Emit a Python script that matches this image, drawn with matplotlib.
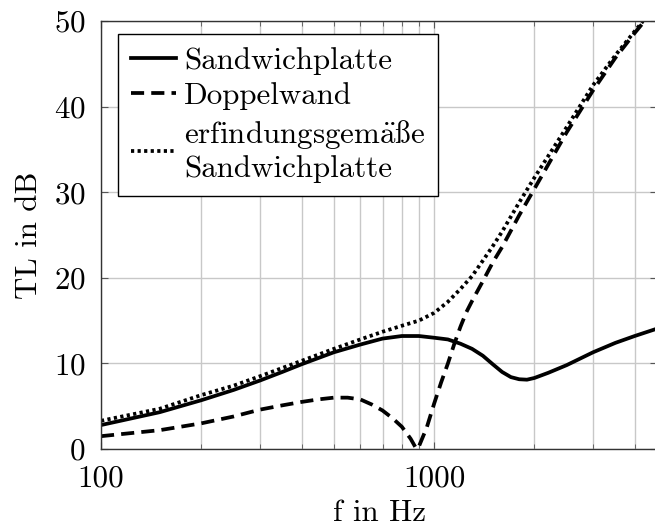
import matplotlib
matplotlib.use('Agg')
import matplotlib.pyplot as plt
import matplotlib.ticker as ticker
from matplotlib import font_manager
from matplotlib.ft2font import FT2Font

plt.rcParams['font.family'] = ['cmr10', 'STIXGeneral']
plt.rcParams['mathtext.fontset'] = 'cm'
plt.rcParams['axes.formatter.use_mathtext'] = True


def cm_char(glyph_name, fallback):
    # look for a named glyph in the bundled cmr10 font
    try:
        path = font_manager.findfont('cmr10')
        ft = FT2Font(path)
        for code, idx in ft.get_charmap().items():
            if ft.get_glyph_name(idx) == glyph_name:
                return chr(code)
    except Exception:
        pass
    return fallback


SZ = 22.3
ss = cm_char('germandbls', 'ß')
label_es = 'erfindungsgem' + r'$\mathrm{\ddot{a}}$' + ss + 'e\nSandwichplatte'

# Sandwichplatte (solid)
f_sw = [100, 150, 200, 250, 300, 350, 400, 500, 600, 700, 800, 900, 1000, 1100,
        1200, 1300, 1400, 1500, 1600, 1700, 1800, 1900, 2000, 2200, 2500, 3000,
        3500, 4000, 4700]
tl_sw = [2.8, 4.3, 5.7, 6.9, 8.0, 9.0, 9.9, 11.3, 12.2, 12.9, 13.2, 13.2, 13.0,
         12.8, 12.3, 11.7, 10.9, 9.9, 9.0, 8.4, 8.15, 8.1, 8.3, 8.9, 9.8, 11.3,
         12.4, 13.2, 14.1]

# Doppelwand (dashed)
f_dw = [100, 150, 200, 250, 300, 350, 400, 450, 500, 550, 600, 650, 700, 750,
        800, 850, 885, 900, 950, 1000, 1050, 1100, 1150, 1200, 1250, 1300, 1400,
        1500, 1600, 1800, 2000, 2500, 3000, 3500, 4000, 4200, 4700]
tl_dw = [1.5, 2.2, 3.0, 3.8, 4.6, 5.1, 5.5, 5.8, 6.0, 6.0, 5.8, 5.2, 4.5, 3.6,
         2.6, 1.2, 0.0, 0.3, 2.5, 5.3, 7.8, 10.0, 12.3, 14.3, 16.0, 17.3, 19.6,
         21.8, 23.6, 27.3, 30.4, 37.0, 41.9, 45.7, 48.6, 49.6, 52.5]

# erfindungsgemaesse Sandwichplatte (dotted)
f_es = [100, 150, 200, 250, 300, 400, 500, 600, 700, 800, 900, 1000, 1100,
        1200, 1300, 1400, 1500, 1600, 1800, 2000, 2500, 3000, 3500, 4000,
        4200, 4700]
tl_es = [3.3, 4.7, 6.3, 7.4, 8.5, 10.3, 11.7, 12.8, 13.7, 14.4, 15.0, 15.9,
         17.2, 18.7, 20.2, 22.0, 23.7, 25.4, 28.8, 31.7, 37.6, 42.5, 46.0,
         48.8, 49.8, 53.0]

fig = plt.figure(figsize=(6.55, 5.29), dpi=100)
ax = fig.add_axes([0.1542, 0.1512, 0.8490, 0.8091])

lw = 2.7
ax.plot(f_sw, tl_sw, color='black', lw=lw, ls='-', label='Sandwichplatte')
ax.plot(f_dw, tl_dw, color='black', lw=lw, ls=(0, (3.5, 1.9)), label='Doppelwand')
ax.plot(f_es, tl_es, color='black', lw=lw, ls=(0, (0.85, 0.9)), label=label_es)

ax.set_xscale('log')
ax.set_xlim(100, 4670)
ax.set_ylim(0, 50)

ax.xaxis.set_major_locator(ticker.FixedLocator([100, 1000]))
ax.xaxis.set_major_formatter(ticker.FixedFormatter(['100', '1000']))
ax.xaxis.set_minor_locator(ticker.FixedLocator(
    [200, 300, 400, 500, 600, 700, 800, 900, 2000, 3000, 4000]))
ax.xaxis.set_minor_formatter(ticker.NullFormatter())
ax.yaxis.set_major_locator(ticker.MultipleLocator(10))

ax.grid(True, which='both', color='#c8c8c8', lw=1.0)
ax.set_axisbelow(True)
ax.tick_params(which='both', direction='in', top=True, right=True,
               color='#555555', labelsize=SZ)
ax.tick_params(which='major', length=5, pad=11)
ax.tick_params(which='minor', length=3.5)
for s in ax.spines.values():
    s.set_color('#333333')
    s.set_linewidth(1.0)

ax.set_xlabel('f in Hz', fontsize=SZ, labelpad=5)
ax.set_ylabel('TL in dB', fontsize=SZ, labelpad=8)

leg = ax.legend(loc='upper left', bbox_to_anchor=(0.0307, 0.9696),
                fontsize=SZ, handlelength=1.45, handletextpad=0.26,
                borderpad=0.42, labelspacing=0.24, borderaxespad=0,
                fancybox=False, framealpha=1, edgecolor='black')
leg.get_frame().set_linewidth(1.0)
for t in leg.get_texts():
    t.set_linespacing(1.2)

fig.savefig('out.png', dpi=100)
